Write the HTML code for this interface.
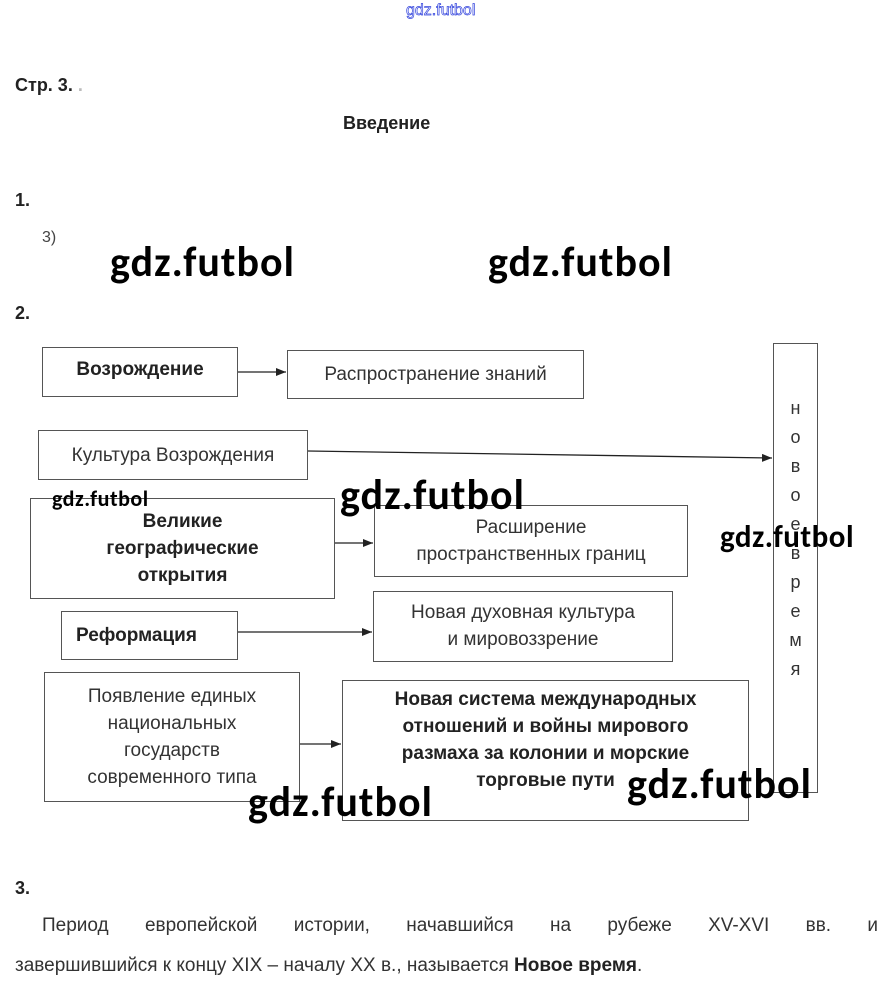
<!DOCTYPE html>
<html><head><meta charset="utf-8"><style>
body{margin:0;width:891px;height:999px;background:#fff;position:relative;overflow:hidden;font-family:"Liberation Sans",Arial,sans-serif;color:#222}
.a{position:absolute;white-space:nowrap}
.b{position:absolute;border:1px solid #555;box-sizing:border-box;display:flex;align-items:center;justify-content:center;text-align:center;font-size:19px;line-height:27px;color:#333}
.bold{font-weight:bold;color:#222}
.w{position:absolute;font-family:"Carlito","Liberation Sans",sans-serif;font-weight:bold;color:#000;letter-spacing:1px;white-space:nowrap}
</style></head><body>
<div class="a" style="left:406px;top:2px;font-size:16px;color:#fff;-webkit-text-stroke:0.7px #3344dd">gdz.futbol</div>
<div class="a bold" style="left:15px;top:75px;font-size:18px">Стр. 3. <span style="color:#bbb">.</span></div>
<div class="a bold" style="left:343px;top:113px;font-size:18px">Введение</div>
<div class="a bold" style="left:15px;top:190px;font-size:18px">1.</div>
<div class="a" style="left:42px;top:229px;font-size:16px;color:#444">3)</div>
<div class="w" style="left:110px;top:237px;font-size:42px">gdz.futbol</div>
<div class="w" style="left:488px;top:237px;font-size:42px">gdz.futbol</div>
<div class="a bold" style="left:15px;top:303px;font-size:18px">2.</div>

<div class="b bold" style="left:42px;top:347px;width:196px;height:50px;align-items:flex-start;padding-top:8px">Возрождение</div>
<div class="b" style="left:287px;top:350px;width:297px;height:49px">Распространение знаний</div>
<div class="b" style="left:38px;top:430px;width:270px;height:50px">Культура Возрождения</div>
<div class="b bold" style="left:30px;top:498px;width:305px;height:101px">Великие<br>географические<br>открытия</div>
<div class="b" style="left:374px;top:505px;width:314px;height:72px">Расширение<br>пространственных границ</div>
<div class="b bold" style="left:61px;top:611px;width:177px;height:49px;justify-content:flex-start;padding-left:14px">Реформация</div>
<div class="b" style="left:373px;top:591px;width:300px;height:71px;align-items:flex-start;padding-top:7px">Новая духовная культура<br>и мировоззрение</div>
<div class="b" style="left:44px;top:672px;width:256px;height:130px">Появление единых<br>национальных<br>государств<br>современного типа</div>
<div class="b bold" style="left:342px;top:680px;width:407px;height:141px;align-items:flex-start;padding-top:5px">Новая система международных<br>отношений и войны мирового<br>размаха за колонии и морские<br>торговые пути</div>
<div class="b" style="left:773px;top:343px;width:45px;height:450px;align-items:flex-start;padding-top:50px;line-height:29px;font-size:18px">н<br>о<br>в<br>о<br>е<br>в<br>р<br>е<br>м<br>я</div>

<svg class="a" style="left:0;top:0" width="891" height="999">
<defs><marker id="m" markerWidth="10" markerHeight="8" refX="10" refY="4" orient="auto" markerUnits="userSpaceOnUse"><path d="M0,0L10,4L0,8z" fill="#222"/></marker></defs>
<g stroke="#222" stroke-width="1.3" fill="none" marker-end="url(#m)">
<line x1="238" y1="372" x2="286" y2="372"/>
<line x1="308" y1="451" x2="772" y2="458"/>
<line x1="335" y1="543" x2="373" y2="543"/>
<line x1="238" y1="632" x2="372" y2="632"/>
<line x1="300" y1="744" x2="341" y2="744"/>
</g></svg>

<div class="w" style="left:52px;top:485px;font-size:22px;letter-spacing:0.5px">gdz.futbol</div>
<div class="w" style="left:340px;top:470px;font-size:42px">gdz.futbol</div>
<div class="w" style="left:720px;top:518px;font-size:31px;letter-spacing:0.5px">gdz.futbol</div>
<div class="w" style="left:627px;top:759px;font-size:42px">gdz.futbol</div>
<div class="w" style="left:248px;top:777px;font-size:42px">gdz.futbol</div>

<div class="a bold" style="left:15px;top:878px;font-size:18px">3.</div>
<div class="a" style="left:42px;top:915px;font-size:19px;width:836px;display:flex;justify-content:space-between;color:#333"><span>Период</span><span>европейской</span><span>истории,</span><span>начавшийся</span><span>на</span><span>рубеже</span><span>XV-XVI</span><span>вв.</span><span>и</span></div>
<div class="a" style="left:15px;top:955px;font-size:19px;color:#333">завершившийся к концу XIX – началу XX в., называется <b style="color:#222">Новое время</b>.</div>
</body></html>
